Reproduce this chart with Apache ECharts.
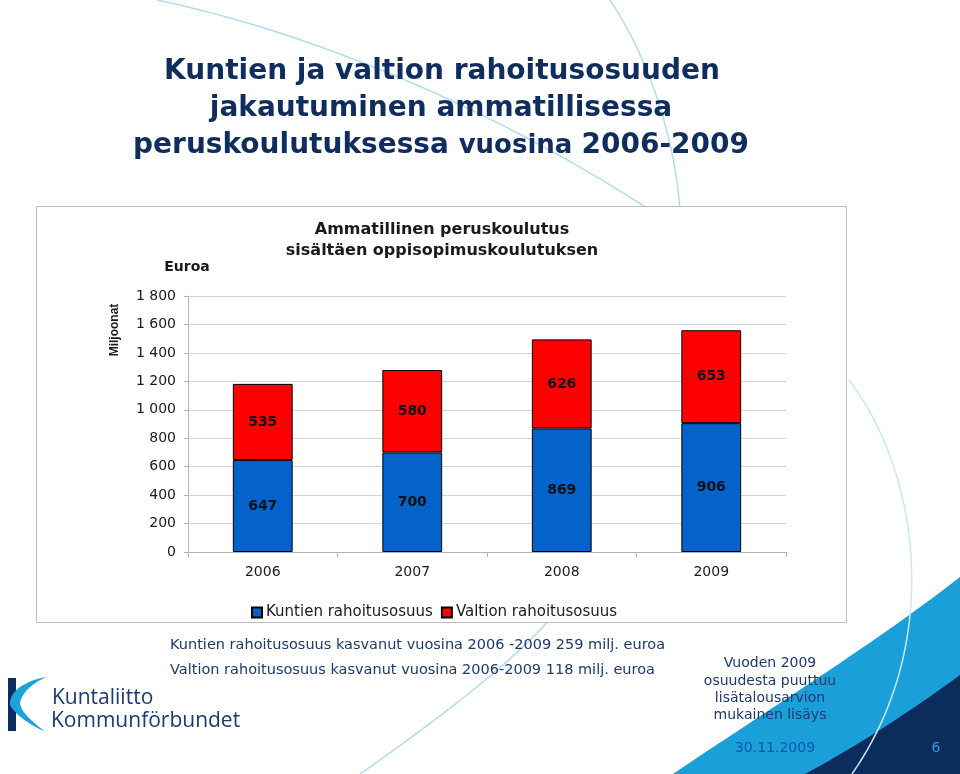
<!DOCTYPE html>
<html>
<head>
<meta charset="utf-8">
<script src="https://cdn.jsdelivr.net/npm/echarts@6/dist/echarts.min.js"></script>
<style>
html,body{margin:0;padding:0;background:#fff;}
#chart{width:960px;height:774px;}
</style>
</head>
<body>
<div id="chart"></div>
<script>
// ---- data ----
const categories = ['2006', '2007', '2008', '2009'];
const kuntienValues = [647, 700, 869, 906];
const valtionValues = [535, 580, 626, 653];
const seriesNames = ['Kuntien rahoitusosuus', 'Valtion rahoitusosuus'];
const yTickLabels = ['0', '200', '400', '600', '800', '1 000', '1 200', '1 400', '1 600', '1 800'];
const titleLines = ['Kuntien ja valtion rahoitusosuuden', 'jakautuminen ammatillisessa'];
const chartTitleLines = ['Ammatillinen peruskoulutus', 'sisältäen oppisopimuskoulutuksen'];
const noteLines = ['Kuntien rahoitusosuus kasvanut vuosina 2006 -2009 259 milj. euroa',
                   'Valtion rahoitusosuus kasvanut vuosina 2006-2009 118 milj. euroa'];
const sideNote = ['Vuoden 2009', 'osuudesta puuttuu', 'lisätalousarvion', 'mukainen lisäys'];

// ---- decoration helpers (geometry only) ----
function bez(p0, p1, p2, p3, n) {
  const pts = [];
  for (let i = 0; i <= n; i++) {
    const t = i / n, u = 1 - t;
    pts.push([
      u*u*u*p0[0] + 3*u*u*t*p1[0] + 3*u*t*t*p2[0] + t*t*t*p3[0],
      u*u*u*p0[1] + 3*u*u*t*p1[1] + 3*u*t*t*p2[1] + t*t*t*p3[1]
    ]);
  }
  return pts;
}
const NAVY = '#0f2d5e';
const TXT = '#1c3a6e';
const FONT = '"DejaVu Sans", sans-serif';

const lightBluePoly = [[673, 774]].concat(bez([673, 774], [760, 715], [880, 640], [960, 577], 30)).concat([[960, 774]]);
const navyPoly = [[805, 774]].concat(bez([805, 774], [850, 750], [910, 712], [960, 675], 30)).concat([[960, 774]]);
const swoosh = []
  .concat(bez([46, 677], [25, 681], [9, 691], [10, 705], 16))
  .concat(bez([10, 705], [16, 716], [32, 726], [46, 732], 16))
  .concat(bez([46, 732], [32, 722], [21, 712], [20, 703], 16))
  .concat(bez([20, 703], [22, 692], [33, 683], [46, 677], 16));

const graphics = [
  // background decorative lines
  { type: 'polyline', z: -20, silent: true, shape: { points: bez([157, 0], [300, 30], [480, 100], [650, 210], 40) }, style: { stroke: '#b3dcec', lineWidth: 1.5, fill: null } },
  { type: 'polyline', z: -20, silent: true, shape: { points: bez([610, 0], [650, 60], [675, 140], [680, 210], 40) }, style: { stroke: '#b3dcec', lineWidth: 1.5, fill: null } },
  { type: 'polyline', z: -20, silent: true, shape: { points: bez([549, 620], [510, 665], [430, 725], [360, 774], 40) }, style: { stroke: '#b3dcec', lineWidth: 1.5, fill: null } },
  // bottom right shapes
  { type: 'polygon', z: -19, silent: true, shape: { points: lightBluePoly }, style: { fill: '#1a9fd8' } },
  { type: 'polygon', z: -18, silent: true, shape: { points: navyPoly }, style: { fill: '#0b2c5c' } },
  { type: 'polyline', z: -17, silent: true, shape: { points: bez([849, 380], [918, 470], [945, 640], [852, 774], 50) }, style: { stroke: '#c8e8f5', lineWidth: 1.5, fill: null } },
  // chart box
  { type: 'rect', z: -10, silent: true, shape: { x: 36.5, y: 206.5, width: 810, height: 416 }, style: { fill: '#ffffff', stroke: '#bcbcbc', lineWidth: 1 } },
  // main title
  { type: 'text', z: 10, x: 442, y: 72, style: { text: titleLines[0], font: 'bold 28px ' + FONT, fill: NAVY, textAlign: 'center', textVerticalAlign: 'middle' } },
  { type: 'text', z: 10, x: 441, y: 109, style: { text: titleLines[1], font: 'bold 28px ' + FONT, fill: NAVY, textAlign: 'center', textVerticalAlign: 'middle' } },
  { type: 'text', z: 10, x: 441, y: 146, style: {
      text: '{a|peruskoulutuksessa }{b|vuosina }{a|2006-2009}', textAlign: 'center', textVerticalAlign: 'middle',
      rich: { a: { font: 'bold 28px ' + FONT, fill: NAVY }, b: { font: 'bold 26px ' + FONT, fill: NAVY } } } },
  // chart title inside box
  { type: 'text', z: 10, x: 442, y: 230, style: { text: chartTitleLines[0], font: 'bold 16px ' + FONT, fill: '#1a1a1a', textAlign: 'center', textVerticalAlign: 'middle' } },
  { type: 'text', z: 10, x: 442, y: 251, style: { text: chartTitleLines[1], font: 'bold 16px ' + FONT, fill: '#1a1a1a', textAlign: 'center', textVerticalAlign: 'middle' } },
  { type: 'text', z: 10, x: 187, y: 267, style: { text: 'Euroa', font: 'bold 14px ' + FONT, fill: '#1a1a1a', textAlign: 'center', textVerticalAlign: 'middle' } },
  { type: 'text', z: 10, x: 115, y: 330, rotation: Math.PI / 2, style: { text: 'Miljoonat', font: 'bold 12px "Liberation Sans", Arial, sans-serif', fill: '#1a1a1a', textAlign: 'center', textVerticalAlign: 'middle' } },
  // notes below chart
  { type: 'text', z: 10, x: 170, y: 645, style: { text: noteLines[0], font: '14.5px ' + FONT, fill: TXT, textAlign: 'left', textVerticalAlign: 'middle' } },
  { type: 'text', z: 10, x: 170, y: 670, style: { text: noteLines[1], font: '14.5px ' + FONT, fill: TXT, textAlign: 'left', textVerticalAlign: 'middle' } },
  // side note
  { type: 'text', z: 10, x: 770, y: 663, style: { text: sideNote[0], font: '14px ' + FONT, fill: TXT, textAlign: 'center', textVerticalAlign: 'middle' } },
  { type: 'text', z: 10, x: 770, y: 681, style: { text: sideNote[1], font: '14px ' + FONT, fill: TXT, textAlign: 'center', textVerticalAlign: 'middle' } },
  { type: 'text', z: 10, x: 770, y: 698, style: { text: sideNote[2], font: '14px ' + FONT, fill: TXT, textAlign: 'center', textVerticalAlign: 'middle' } },
  { type: 'text', z: 10, x: 770, y: 715, style: { text: sideNote[3], font: '14px ' + FONT, fill: TXT, textAlign: 'center', textVerticalAlign: 'middle' } },
  { type: 'text', z: 10, x: 775, y: 748, style: { text: '30.11.2009', font: '14px ' + FONT, fill: '#0d57a8', textAlign: 'center', textVerticalAlign: 'middle' } },
  { type: 'text', z: 10, x: 936, y: 748, style: { text: '6', font: '14px ' + FONT, fill: '#2a9fdc', textAlign: 'center', textVerticalAlign: 'middle' } },
  // logo
  { type: 'rect', z: 5, silent: true, shape: { x: 8, y: 678, width: 8, height: 53 }, style: { fill: '#0b2c5c' } },
  { type: 'polygon', z: 6, silent: true, shape: { points: swoosh }, style: { fill: '#1aa3db' } },
  { type: 'text', z: 10, x: 52, y: 698, style: { text: 'Kuntaliitto', font: '21px "Open Sans", sans-serif', fill: '#1b3a70', textAlign: 'left', textVerticalAlign: 'middle' } },
  { type: 'text', z: 10, x: 51, y: 721, style: { text: 'Kommunförbundet', font: '21px "Open Sans", sans-serif', fill: '#1b3a70', textAlign: 'left', textVerticalAlign: 'middle' } }
];

const chart = echarts.init(document.getElementById('chart'), null, { renderer: 'canvas' });
const labelStyle = { show: true, position: 'inside', fontFamily: FONT, fontWeight: 'bold', fontSize: 14, color: '#111' };
chart.setOption({
  animation: false,
  backgroundColor: '#ffffff',
  graphic: graphics,
  grid: { left: 188, right: 174, top: 296, bottom: 222, containLabel: false },
  legend: {
    left: 246, top: 600, itemWidth: 10, itemHeight: 10, itemGap: 8, icon: 'rect',
    textStyle: { fontFamily: FONT, fontSize: 15, color: '#1a1a1a', padding: [0, 0, 0, -1] },
    data: seriesNames
  },
  xAxis: {
    type: 'category', data: categories,
    axisLine: { lineStyle: { color: '#b4b4b4' } },
    axisTick: { show: true, length: 5, lineStyle: { color: '#b4b4b4' } },
    axisLabel: { margin: 13, fontFamily: FONT, fontSize: 14, color: '#1a1a1a' }
  },
  yAxis: {
    type: 'value', min: 0, max: 1800, interval: 200,
    axisLine: { show: true, lineStyle: { color: '#b4b4b4' } },
    axisTick: { show: true, length: 4, lineStyle: { color: '#b4b4b4' } },
    splitLine: { lineStyle: { color: '#d4d4d4' } },
    axisLabel: { margin: 12, fontFamily: FONT, fontSize: 14, color: '#1a1a1a',
      formatter: function (v) { return yTickLabels[Math.round(v / 200)]; } }
  },
  series: [
    { name: seriesNames[0], type: 'bar', stack: 'total', data: kuntienValues, barWidth: '40%',
      itemStyle: { color: '#0363cb', borderColor: '#000', borderWidth: 1 }, label: labelStyle },
    { name: seriesNames[1], type: 'bar', stack: 'total', data: valtionValues, barWidth: '40%',
      itemStyle: { color: '#fe0000', borderColor: '#000', borderWidth: 1 }, label: labelStyle }
  ]
});
</script>
</body>
</html>
